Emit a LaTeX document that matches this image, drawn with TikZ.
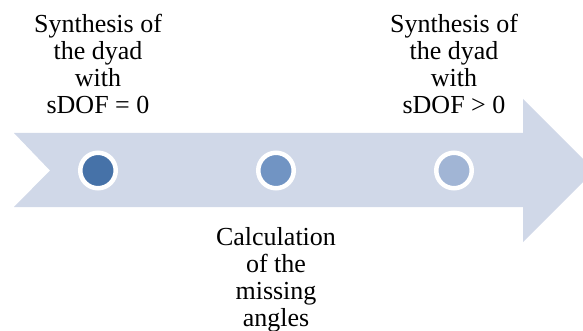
\documentclass[tikz,border=0pt]{standalone}
\usepackage{fontspec}
\setmainfont{Liberation Serif}
\usetikzlibrary{positioning}

\definecolor{arrowfill}{HTML}{D0D8E8}
\definecolor{dotA}{HTML}{4672A8}
\definecolor{dotB}{HTML}{7194C3}
\definecolor{dotC}{HTML}{A1B5D5}

\begin{document}
\begin{tikzpicture}[
    x=1pt, y=-1pt,
    node distance=138pt,
    dot/.style={circle, draw=white, line width=4.5pt, minimum size=35.5pt, inner sep=0pt},
    steptext/.style={align=center, inner sep=0pt, font=\fontsize{26}{27}\selectfont}
]
    \clip (0,0) rectangle (583,331);
    \useasboundingbox (0,0) rectangle (583,331);

    % big arrow
    \fill[arrowfill] (14,133) -- (523,133) -- (523,99) -- (594.5,170.5)
        -- (523,242) -- (523,207) -- (14,207) -- (50,170.5) -- cycle;

    \node [dot, fill=dotA] at (98,170.5) (first) {};
    \node [dot, fill=dotB, right=of first] (second) {};
    \node [dot, fill=dotC, right=of second] (third) {};

    \node [steptext, above=37pt of first] (firsttext) {Synthesis of\\the dyad\\with\\sDOF = 0};
    \node [steptext, below=37pt of second] (secondtext) {Calculation\\of the\\missing\\angles};
    \node [steptext, above=37pt of third] (thirdtext) {Synthesis of\\the dyad\\with\\sDOF > 0};
\end{tikzpicture}
\end{document}
